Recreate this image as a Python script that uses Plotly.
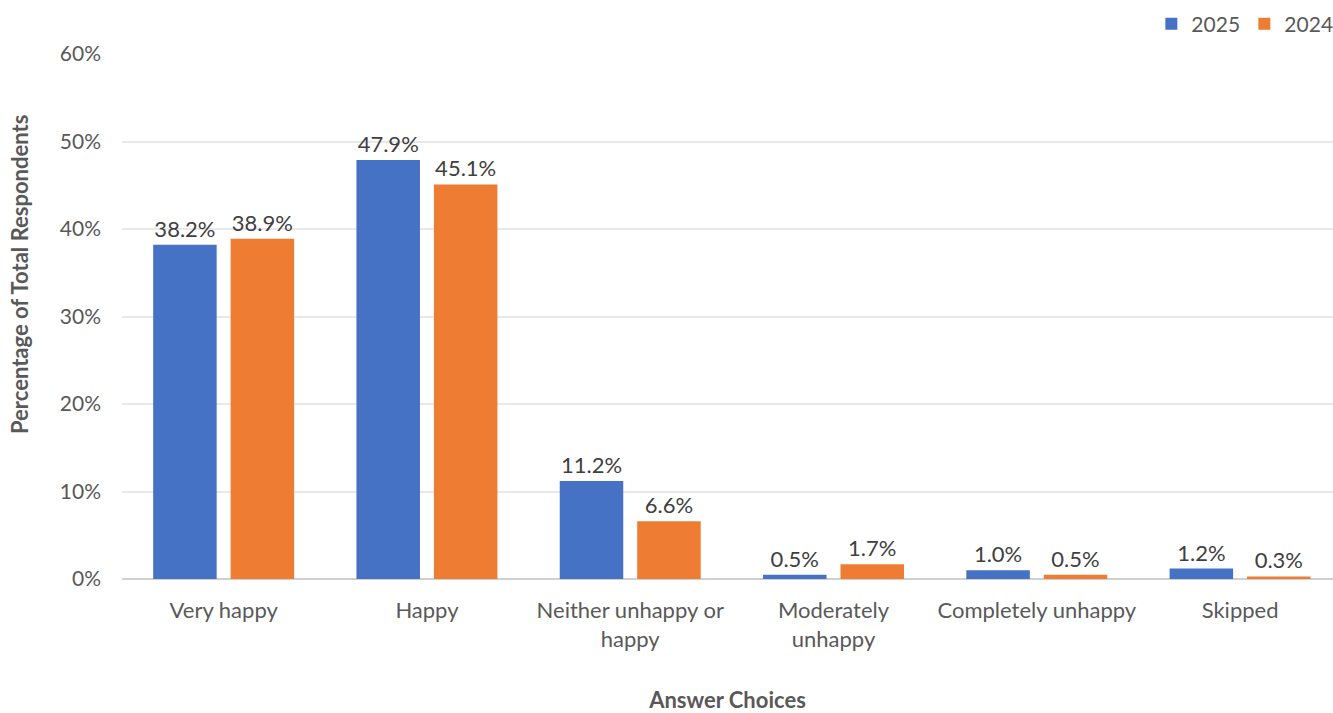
import plotly.graph_objects as go

categories = ["Very happy", "Happy", "Neither unhappy or<br>happy", "Moderately<br>unhappy",
              "Completely unhappy", "Skipped"]
values_2025 = [38.2, 47.9, 11.2, 0.5, 1.0, 1.2]
values_2024 = [38.9, 45.1, 6.6, 1.7, 0.5, 0.3]
y_ticks = [0, 10, 20, 30, 40, 50, 60]
y_tick_labels = ["0%", "10%", "20%", "30%", "40%", "50%", "60%"]

FONT = "Lato"
TEXT = "#595959"

fig = go.Figure()
fig.add_trace(go.Bar(
    name="2025", x=categories, y=values_2025,
    marker=dict(color="#4572C4", line=dict(width=0)),
    texttemplate="%{y:.1f}%", textposition="outside",
    textfont=dict(family=FONT, size=22, color="#404040"),
    cliponaxis=False,
))
fig.add_trace(go.Bar(
    name="2024", x=categories, y=values_2024,
    marker=dict(color="#EE7C32", line=dict(width=0)),
    texttemplate="%{y:.1f}%", textposition="outside",
    textfont=dict(family=FONT, size=22, color="#404040"),
    cliponaxis=False,
))

# vertical axis title, placed slightly above the plot's centre line
fig.add_annotation(
    text="<b>Percentage of Total Respondents</b>", textangle=-90,
    xref="paper", yref="paper", x=0, y=0.58, xshift=-118,
    showarrow=False, font=dict(family=FONT, size=22, color=TEXT),
)

fig.update_layout(
    width=1333, height=713,
    margin=dict(l=122, r=0, t=54, b=134, autoexpand=False),
    paper_bgcolor="white", plot_bgcolor="white",
    barmode="group", bargap=0.238, bargroupgap=0.18,
    font=dict(family=FONT, size=22, color=TEXT),
    showlegend=True,
    legend=dict(orientation="h", x=0.85, xanchor="left", y=0.995, yanchor="top",
                yref="container", font=dict(family=FONT, size=21, color=TEXT),
                itemwidth=30, entrywidth=48, entrywidthmode="pixels",
                traceorder="normal"),
    xaxis=dict(
        range=[-0.5, 5.457],
        showgrid=False, showline=False, zeroline=False,
        ticks="", ticklabelstandoff=16, automargin=False,
        tickfont=dict(family=FONT, size=22, color=TEXT),
        title=dict(text="<b>Answer Choices</b>", standoff=50,
                   font=dict(family=FONT, size=22, color=TEXT)),
    ),
    yaxis=dict(
        range=[0, 60], tickvals=y_ticks, ticktext=y_tick_labels,
        showgrid=True, gridcolor="#E9E9E9", gridwidth=1.5,
        zeroline=True, zerolinecolor="#D0D0D0", zerolinewidth=2,
        showline=False, ticks="", ticklabelstandoff=20, automargin=False,
        tickfont=dict(family=FONT, size=21, color=TEXT),
    ),
)

fig.write_html("out.html")
